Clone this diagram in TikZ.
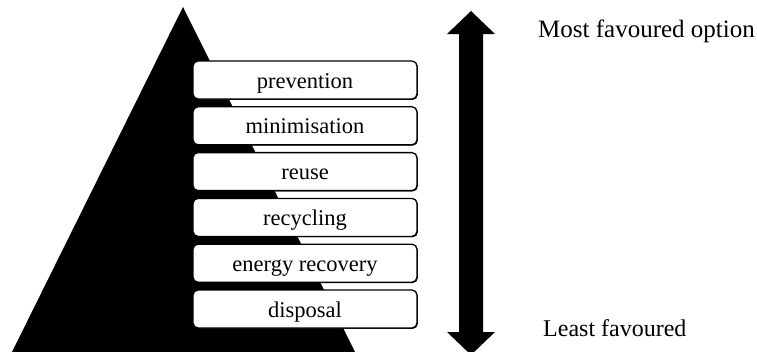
\documentclass[tikz,border=0pt]{standalone}
\usepackage{fontspec}
\setmainfont{Liberation Serif}
\usetikzlibrary{shadows}
\begin{document}
\begin{tikzpicture}[x=1pt,y=-1pt,
  levelbox/.style={draw=black, line width=1.3pt, fill=white, rounded corners=5pt,
    minimum width=224pt, minimum height=38pt, inner sep=0pt,
    text height=19pt, text depth=3pt, font=\fontsize{22.5}{26}\selectfont,
    drop shadow={shadow xshift=0.8pt, shadow yshift=-0.8pt, fill=black, opacity=1}},
  sidelabel/.style={anchor=base west, inner sep=0pt, font=\fontsize{24}{28}\selectfont}]
\useasboundingbox (0,0) rectangle (757,351);
% pyramid
\fill[black] (12,352) -- (183,7) -- (355,352) -- cycle;
% levels
\foreach \name/\txt [count=\k from 0] in {prev/prevention, mini/minimisation, reus/reuse, recy/recycling, ener/energy recovery, disp/disposal}{
  \node[levelbox] (\name) at (305,{80+45.8*\k}) {\txt};
}
% double arrow
\fill[black] (471,11) -- (495,34) -- (483,34) -- (483,332) -- (495,332) -- (471,355)
  -- (447,332) -- (459,332) -- (459,34) -- (447,34) -- cycle;
% labels
\node[sidelabel, font=\fontsize{25}{29}\selectfont] (most) at (538,37.5) {Most favoured option};
\node[sidelabel] (least) at (543,336.5) {Least favoured};
\end{tikzpicture}
\end{document}
